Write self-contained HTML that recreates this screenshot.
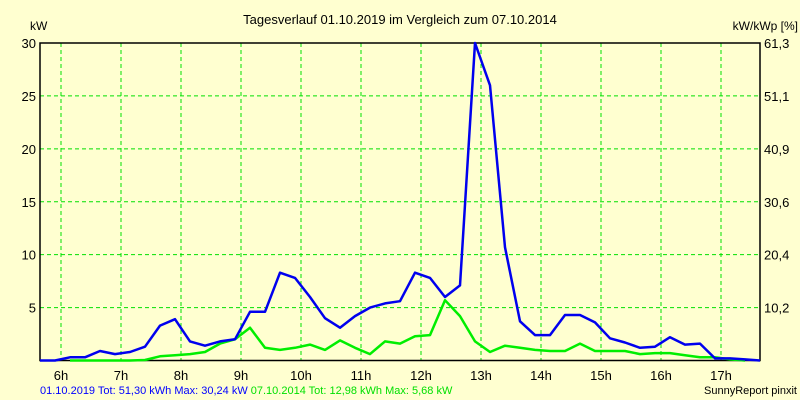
<!DOCTYPE html>
<html><head><meta charset="utf-8"><style>
body{margin:0;background:#ffffd0;}
svg{display:block;font-family:"Liberation Sans",sans-serif;}
</style></head><body>
<svg id="chart" width="800" height="400">
<rect width="800" height="400" fill="#ffffd0"/>
<text x="400" y="24" font-size="13" text-anchor="middle">Tagesverlauf 01.10.2019 im Vergleich zum 07.10.2014</text>
<text x="30" y="30" font-size="12">kW</text>
<text x="798" y="30" font-size="12" text-anchor="end">kW/kWp [%]</text>
<g id="grid"></g>
<g id="axes"></g>
<g id="series"></g>
<text x="40" y="394" font-size="11" fill="#0000ff">01.10.2019 Tot: 51,30 kWh Max: 30,24 kW <tspan fill="#00e000">07.10.2014 Tot: 12,98 kWh Max: 5,68 kW</tspan></text>
<text x="797" y="394" font-size="11" text-anchor="end">SunnyReport pinxit</text>
</svg>
<script>
const hourLabels=["6h","7h","8h","9h","10h","11h","12h","13h","14h","15h","16h","17h"];
const hourValues=[6,7,8,9,10,11,12,13,14,15,16,17];
const yTicks=[5,10,15,20,25,30];
const yRightLabels=["10,2","20,4","30,6","40,9","51,1","61,3"];
const startHour=5.65;
const series2019=[0,0,0.3,0.3,0.9,0.6,0.8,1.3,3.3,3.9,1.8,1.4,1.8,2.0,4.6,4.6,8.3,7.8,6.0,4.0,3.1,4.2,5.0,5.4,5.6,8.3,7.8,6.0,7.1,30,26,10.7,3.7,2.4,2.4,4.3,4.3,3.6,2.1,1.7,1.2,1.3,2.2,1.5,1.6,0.2,0.2,0.1,0];
const series2014=[null,null,0,0,0,0,0,0.05,0.4,0.5,0.6,0.8,1.6,2.0,3.1,1.2,1.0,1.2,1.5,1.0,1.9,1.2,0.6,1.8,1.6,2.3,2.4,5.7,4.2,1.8,0.8,1.4,1.2,1.0,0.9,0.9,1.6,0.9,0.9,0.9,0.6,0.7,0.7,0.5,0.3,0.3,0.1,0];
const NS="http://www.w3.org/2000/svg";
const L=40,R=760,T=43,B=360.5;
const x=h=>L+(h-startHour)*60;
const xi=i=>x(startHour+i*0.25);
const y=v=>B-(v/30)*(B-T);
function mk(tag,attrs,parent,text){const e=document.createElementNS(NS,tag);for(const k in attrs)e.setAttribute(k,attrs[k]);if(text!==undefined)e.textContent=text;document.getElementById(parent).appendChild(e);return e;}
yTicks.forEach((v,i)=>{
 const g=mk("line",{x1:L,x2:R,y1:y(v),y2:y(v),stroke:"#00e000","stroke-dasharray":"4,3"},"grid");
 
 
 const t=mk("text",{x:L-4,y:y(v)+5,"font-size":13,"text-anchor":"end"},"axes",String(v));
 
 
 const r=mk("text",{x:R+4,y:y(v)+5,"font-size":13},"axes",yRightLabels[i]);
 
 
});
hourValues.forEach((h,i)=>{
 const g=mk("line",{x1:x(h),x2:x(h),y1:T,y2:B,stroke:"#00e000","stroke-dasharray":"4,3"},"grid");
 
 
 const t=mk("text",{x:x(h),y:380,"font-size":13,"text-anchor":"middle"},"axes",hourLabels[i]);
 
 
});
const frame=mk("path",{d:`M${L},${T}H${R}V${B}H${L}Z`,fill:"none",stroke:"#000","stroke-width":1.5},"axes");


function line(data,color,name){
 const pts=[];data.forEach((v,i)=>{if(v!==null)pts.push(xi(i).toFixed(1)+","+y(v).toFixed(1));});
 const p=mk("polyline",{points:pts.join(" "),fill:"none",stroke:color,"stroke-width":2.5,"stroke-linejoin":"round"},"series");
 
 
}
line(series2014,"#00ee00","line-2014");
line(series2019,"#0000ee","line-2019");
</script>
</body></html>
